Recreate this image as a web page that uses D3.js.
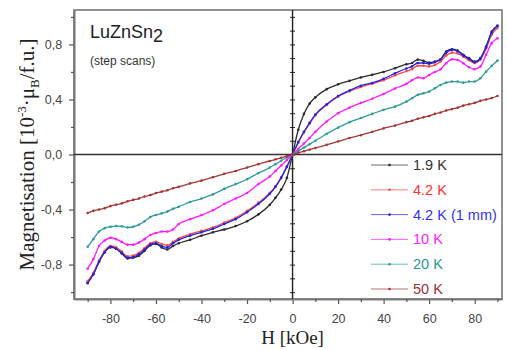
<!DOCTYPE html>
<html>
<head>
<meta charset="utf-8">
<script src="https://cdn.jsdelivr.net/npm/d3@7"></script>
<style>
  body { margin: 0; background: #fff; }
  svg { display: block; }
</style>
</head>
<body>
<div id="chart"></div>
<script>
// field steps (kOe) shared by every scan
const fieldH = [-90,-87.5,-85,-82.5,-80,-77.5,-75,-72.5,-70,-67.5,-65,-62.5,-60,-57.5,-55,-52.5,-50,-45,-40,-35,-30,-25,-20,-15,-10,-7.5,-5,-2.5,
  0,
  2.5,5,7.5,10,15,20,25,30,35,40,45,50,52.5,55,57.5,60,62.5,65,67.5,70,72.5,75,77.5,80,82.5,85,87.5,90];

// magnetisation, 10^-3 muB/f.u.
const m1p9K = [-0.93,-0.87,-0.78,-0.71,-0.675,-0.685,-0.72,-0.755,-0.75,-0.735,-0.70,-0.66,-0.65,-0.675,-0.69,-0.665,-0.645,-0.62,-0.59,-0.565,-0.545,-0.52,-0.485,-0.435,-0.365,-0.315,-0.255,-0.17,
  0,
  0.18,0.295,0.37,0.415,0.475,0.51,0.535,0.56,0.58,0.60,0.627,0.656,0.665,0.69,0.68,0.668,0.675,0.692,0.748,0.765,0.755,0.724,0.70,0.675,0.70,0.784,0.893,0.935];
const m4p2K = [-0.92,-0.86,-0.77,-0.70,-0.665,-0.675,-0.705,-0.74,-0.735,-0.715,-0.68,-0.645,-0.635,-0.65,-0.66,-0.635,-0.61,-0.58,-0.555,-0.53,-0.495,-0.46,-0.41,-0.35,-0.28,-0.23,-0.165,-0.085,
  0,
  0.085,0.16,0.225,0.285,0.36,0.42,0.46,0.49,0.515,0.54,0.575,0.605,0.62,0.645,0.645,0.64,0.65,0.675,0.72,0.74,0.735,0.71,0.685,0.665,0.69,0.77,0.87,0.92];
const m4p2K1mm = [-0.935,-0.87,-0.78,-0.71,-0.67,-0.685,-0.715,-0.75,-0.745,-0.725,-0.69,-0.655,-0.645,-0.665,-0.675,-0.645,-0.62,-0.59,-0.565,-0.54,-0.505,-0.47,-0.42,-0.36,-0.285,-0.235,-0.17,-0.09,
  0,
  0.09,0.165,0.23,0.29,0.365,0.425,0.465,0.50,0.52,0.55,0.59,0.625,0.64,0.665,0.665,0.66,0.67,0.69,0.74,0.76,0.75,0.72,0.695,0.67,0.695,0.78,0.885,0.935];
const m10K = [-0.83,-0.76,-0.665,-0.625,-0.605,-0.615,-0.635,-0.655,-0.655,-0.64,-0.615,-0.585,-0.57,-0.56,-0.56,-0.545,-0.505,-0.47,-0.44,-0.405,-0.36,-0.32,-0.28,-0.215,-0.16,-0.12,-0.08,-0.04,
  0,
  0.04,0.08,0.12,0.165,0.24,0.30,0.34,0.375,0.405,0.44,0.48,0.513,0.54,0.56,0.554,0.578,0.60,0.62,0.663,0.692,0.687,0.663,0.634,0.62,0.639,0.724,0.809,0.845];
const m20K = [-0.67,-0.615,-0.56,-0.535,-0.525,-0.52,-0.522,-0.53,-0.525,-0.51,-0.485,-0.455,-0.44,-0.428,-0.415,-0.395,-0.38,-0.345,-0.32,-0.29,-0.25,-0.215,-0.18,-0.135,-0.095,-0.07,-0.045,-0.022,
  0,
  0.025,0.05,0.075,0.10,0.15,0.195,0.235,0.265,0.295,0.325,0.348,0.384,0.409,0.433,0.445,0.457,0.481,0.505,0.522,0.53,0.53,0.522,0.53,0.53,0.554,0.602,0.644,0.682];
const m50K = [-0.425,-0.41,-0.40,-0.39,-0.375,-0.365,-0.355,-0.34,-0.33,-0.32,-0.305,-0.295,-0.28,-0.27,-0.26,-0.245,-0.235,-0.21,-0.19,-0.165,-0.14,-0.12,-0.095,-0.07,-0.047,-0.035,-0.024,-0.012,
  0,
  0.012,0.024,0.035,0.047,0.07,0.095,0.12,0.14,0.165,0.19,0.21,0.235,0.245,0.26,0.27,0.28,0.295,0.305,0.32,0.33,0.34,0.355,0.365,0.375,0.39,0.40,0.41,0.425];

const seriesNames = ['1.9 K', '4.2 K', '4.2 K (1 mm)', '10 K', '20 K', '50 K'];
const seriesValues = [m1p9K, m4p2K, m4p2K1mm, m10K, m20K, m50K];
const seriesColors = ['#2a2a2a', '#ff4a4a', '#2424e0', '#ff1aff', '#2f9c98', '#a33838'];
const legendColors = ['#333333', '#ff3333', '#3333ee', '#ff22ff', '#2a9a95', '#993333'];

const xMajor = [-80, -60, -40, -20, 0, 20, 40, 60, 80];
const xMinor = [-90, -70, -50, -30, -10, 10, 30, 50, 70, 90];
const yMajor = [-0.8, -0.4, 0, 0.4, 0.8];
const yMinor = [-1.0, -0.6, -0.2, 0.2, 0.6, 1.0];

const width = 507, height = 350;
const margin = {left: 74, right: 5, top: 10, bottom: 51};

const svg = d3.select('#chart').append('svg')
  .attr('width', width)
  .attr('height', height);

const x = d3.scaleLinear().domain([-96, 92]).range([margin.left, width - margin.right]);
const y = d3.scaleLinear().domain([-1.05, 1.05]).range([height - margin.bottom, margin.top]);

// comma decimals, plain hyphen for minus
const fmt = d => d.toFixed(1).replace('.', ',');
const axisColor = '#555';

// frame
svg.append('rect')
  .attr('x', x.range()[0]).attr('y', y.range()[1])
  .attr('width', x.range()[1] - x.range()[0])
  .attr('height', y.range()[0] - y.range()[1])
  .attr('fill', 'none').attr('stroke', '#777').attr('stroke-width', 1.6);

// bottom axis
const gx = svg.append('g')
  .attr('transform', `translate(0,${y.range()[0]})`)
  .call(d3.axisBottom(x).tickValues(xMajor).tickSize(5).tickSizeOuter(0).tickFormat(d => String(d)));
svg.append('g')
  .attr('transform', `translate(0,${y.range()[0]})`)
  .call(d3.axisBottom(x).tickValues(xMinor).tickSize(3).tickSizeOuter(0).tickFormat(''));

// left axis
const gy = svg.append('g')
  .attr('transform', `translate(${x.range()[0]},0)`)
  .call(d3.axisLeft(y).tickValues(yMajor).tickSize(5).tickSizeOuter(0).tickFormat(fmt));
svg.append('g')
  .attr('transform', `translate(${x.range()[0]},0)`)
  .call(d3.axisLeft(y).tickValues(yMinor).tickSize(3).tickSizeOuter(0).tickFormat(''));

svg.selectAll('.domain').attr('stroke', '#777').attr('stroke-width', 1.6);
svg.selectAll('.tick line').attr('stroke', axisColor).attr('stroke-width', 1.2);
svg.selectAll('.tick text')
  .attr('font-family', 'Liberation Sans, Arial, sans-serif')
  .attr('font-size', 12.5)
  .attr('fill', '#444');
gx.selectAll('.tick text').attr('dy', '1.25em');
gy.selectAll('.tick text').attr('dx', '-0.3em');

// zero lines through the origin
svg.append('line')
  .attr('x1', x.range()[0]).attr('x2', x.range()[1])
  .attr('y1', y(0)).attr('y2', y(0))
  .attr('stroke', '#333').attr('stroke-width', 1.4);
svg.append('line')
  .attr('x1', x(0)).attr('x2', x(0))
  .attr('y1', y.range()[0]).attr('y2', y.range()[1])
  .attr('stroke', '#222').attr('stroke-width', 1.4);

const zeroTicks = d3.range(-10, 11).map(i => i / 10);
[d3.axisLeft, d3.axisRight].forEach(ax => {
  const g = svg.append('g')
    .attr('transform', `translate(${x(0)},0)`)
    .call(ax(y).tickValues(zeroTicks).tickSize(2.5).tickSizeOuter(0).tickFormat(''));
  g.select('.domain').remove();
  g.selectAll('.tick line').attr('stroke', '#222').attr('stroke-width', 1);
});

// curves
const line = d3.line()
  .x((d, i) => x(fieldH[i]))
  .y(d => y(d))
  .curve(d3.curveMonotoneX);

seriesValues.forEach((vals, k) => {
  const g = svg.append('g').attr('class', 'series');
  g.append('path')
    .datum(vals)
    .attr('d', line)
    .attr('fill', 'none')
    .attr('stroke', seriesColors[k])
    .attr('stroke-width', 1.3);
  g.selectAll('circle')
    .data(vals)
    .join('circle')
    .attr('cx', (d, i) => x(fieldH[i]))
    .attr('cy', d => y(d))
    .attr('r', 1.3)
    .attr('fill', seriesColors[k]);
});

// legend
const legend = svg.append('g')
  .attr('font-family', 'Liberation Sans, Arial, sans-serif')
  .attr('font-size', 14.5);
const legendY = d3.scalePoint().domain(seriesNames).range([165, 289]);
seriesNames.forEach((name, k) => {
  const ly = legendY(name);
  legend.append('line')
    .attr('x1', 371).attr('x2', 408)
    .attr('y1', ly).attr('y2', ly)
    .attr('stroke', seriesColors[k]).attr('stroke-width', 1)
    .attr('opacity', 0.7);
  legend.append('circle')
    .attr('cx', 389.5).attr('cy', ly).attr('r', 1.3)
    .attr('fill', seriesColors[k]);
  legend.append('text')
    .attr('x', 413).attr('y', ly + 5)
    .attr('fill', legendColors[k])
    .text(name);
});

// title
const title = svg.append('text')
  .attr('x', 90).attr('y', 38)
  .attr('font-family', 'Liberation Sans, Arial, sans-serif')
  .attr('font-size', 18)
  .attr('fill', '#222');
title.append('tspan').text('LuZnSn');
title.append('tspan').attr('dy', 4).text('2');
svg.append('text')
  .attr('x', 90).attr('y', 65)
  .attr('font-family', 'Liberation Sans, Arial, sans-serif')
  .attr('font-size', 12)
  .attr('fill', '#333')
  .text('(step scans)');

// axis titles
svg.append('text')
  .attr('x', x(0)).attr('y', 344)
  .attr('text-anchor', 'middle')
  .attr('font-family', 'Liberation Serif, Times New Roman, serif')
  .attr('font-size', 19)
  .attr('fill', '#222')
  .text('H [kOe]');

const ylab = svg.append('text')
  .attr('transform', `translate(34,${(y.range()[0] + y.range()[1]) / 2}) rotate(-90)`)
  .attr('text-anchor', 'middle')
  .attr('font-family', 'Liberation Serif, Times New Roman, serif')
  .attr('font-size', 21)
  .attr('fill', '#222');
ylab.append('tspan').text('Magnetisation [10');
ylab.append('tspan').attr('font-size', 13).attr('dy', -8).text('-3');
ylab.append('tspan').attr('dy', 8).text('·μ');
ylab.append('tspan').attr('font-size', 13).attr('dy', 5).text('B');
ylab.append('tspan').attr('dy', -5).text('/f.u.]');
</script>
</body>
</html>
